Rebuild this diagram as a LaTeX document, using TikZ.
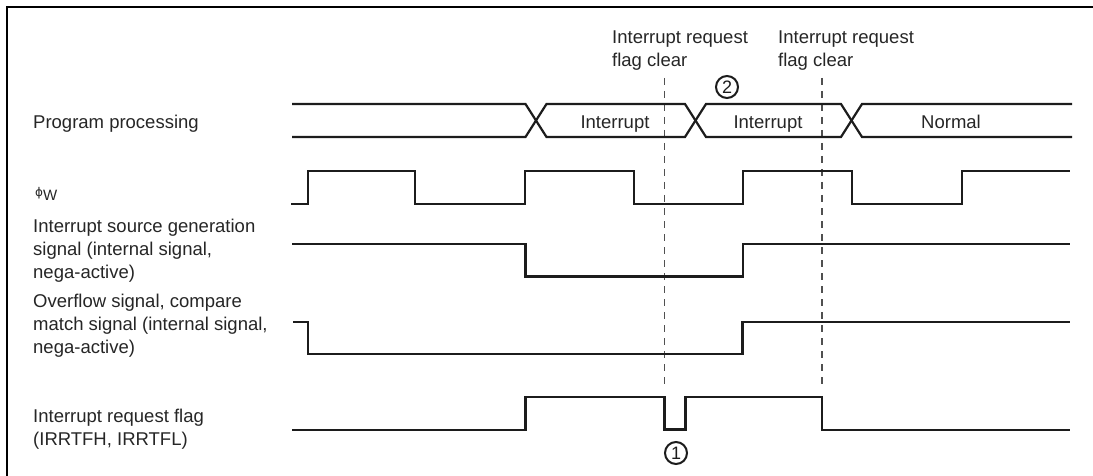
\documentclass[tikz,border=0pt]{standalone}
\usepackage{fontspec}
\setmainfont{Liberation Sans}
\newfontfamily\phifont{DejaVu Sans}
\definecolor{txt}{HTML}{262626}
\definecolor{sig}{HTML}{1C1C1C}
\definecolor{dsh}{HTML}{505050}
\begin{document}
\begin{tikzpicture}[x=1pt,y=-1pt,
  lbl/.style={inner sep=0pt,anchor=base west,text=txt,font=\fontsize{18.5}{23}\selectfont},
  clbl/.style={inner sep=0pt,anchor=base,text=txt,font=\fontsize{18.5}{23}\selectfont},
  wave/.style={draw=sig,line width=2.2pt,line join=miter,line cap=butt},
  clearline/.style={draw=dsh,line width=1.3pt,dash pattern=on 7pt off 6pt},
  frame/.style={draw=black,line width=2.4pt},
  num/.style={circle,draw=sig,line width=2pt,minimum size=22pt,inner sep=0pt,text=sig,font=\fontsize{18}{18}\selectfont}]
\useasboundingbox (0,0) rectangle (1093,476);
\fill[white] (0,0) rectangle (1093,476);
% frame
\draw[frame] (7,476) -- (7,7) -- (1093,7);
% dashed flag-clear lines
\draw[clearline] (664.5,78) -- (664.5,388);
\draw[clearline] (822,78) -- (822,388);
% program processing bus
\draw[wave] (292,104) -- (525.5,104) -- (546.5,137) -- (685,137) -- (706,104) -- (841,104) -- (862,137) -- (1072,137);
\draw[wave] (292,137) -- (525.5,137) -- (546.5,104) -- (685,104) -- (706,137) -- (841,137) -- (862,104) -- (1072,104);
% phi_W clock
\draw[wave] (291,204) -- (308,204) -- (308,171) -- (415,171) -- (415,204) -- (525,204) -- (525,171) -- (634,171) -- (634,204) -- (743,204) -- (743,171) -- (852,171) -- (852,204) -- (962,204) -- (962,171) -- (1070,171);
% interrupt source generation signal
\draw[wave] (292,244) -- (525.5,244) -- (525.5,276.5) -- (742.7,276.5) -- (742.7,244) -- (1070,244);
% overflow signal
\draw[wave] (293,322) -- (308,322) -- (308,354.3) -- (742.5,354.3) -- (742.5,322) -- (1070,322);
% interrupt request flag
\draw[wave] (292,430) -- (525.5,430) -- (525.5,397) -- (664.5,397) -- (664.5,429.5) -- (685.5,429.5) -- (685.5,397) -- (822,397) -- (822,430) -- (1070,430);
% bus labels
\node[clbl] (b1) at (615,128.3) {Interrupt};
\node[clbl] (b2) at (768,128.3) {Interrupt};
\node[clbl] (b3) at (951,128.3) {Normal};
% top labels
\node[lbl] (c1a) at (612,43.3) {Interrupt request};
\node[lbl] (c1b) at (612,66.3) {flag clear};
\node[lbl] (c2a) at (778,43.3) {Interrupt request};
\node[lbl] (c2b) at (778,66.3) {flag clear};
% numbered marks
\node[num] (n1) at (676,453) {1};
\node[num] (n2) at (727,87) {2};
% left labels
\node[lbl] (l1) at (33,128.3) {Program processing};
\node[inner sep=0pt,anchor=base west,text=txt] (l2) at (35,196.5) {{\phifont\fontsize{12}{12}\selectfont ϕ}\raisebox{-4pt}{\fontsize{15}{15}\selectfont W}};
\node[lbl] (l3a) at (33,232.6) {Interrupt source generation};
\node[lbl] (l3b) at (33,255.6) {signal (internal signal,};
\node[lbl] (l3c) at (33,278.6) {nega-active)};
\node[lbl] (l4a) at (33,307) {Overflow signal, compare};
\node[lbl] (l4b) at (33,330) {match signal (internal signal,};
\node[lbl] (l4c) at (33,353) {nega-active)};
\node[lbl] (l5a) at (33,422) {Interrupt request flag};
\node[lbl] (l5b) at (33,445) {(IRRTFH, IRRTFL)};
\end{tikzpicture}
\end{document}
